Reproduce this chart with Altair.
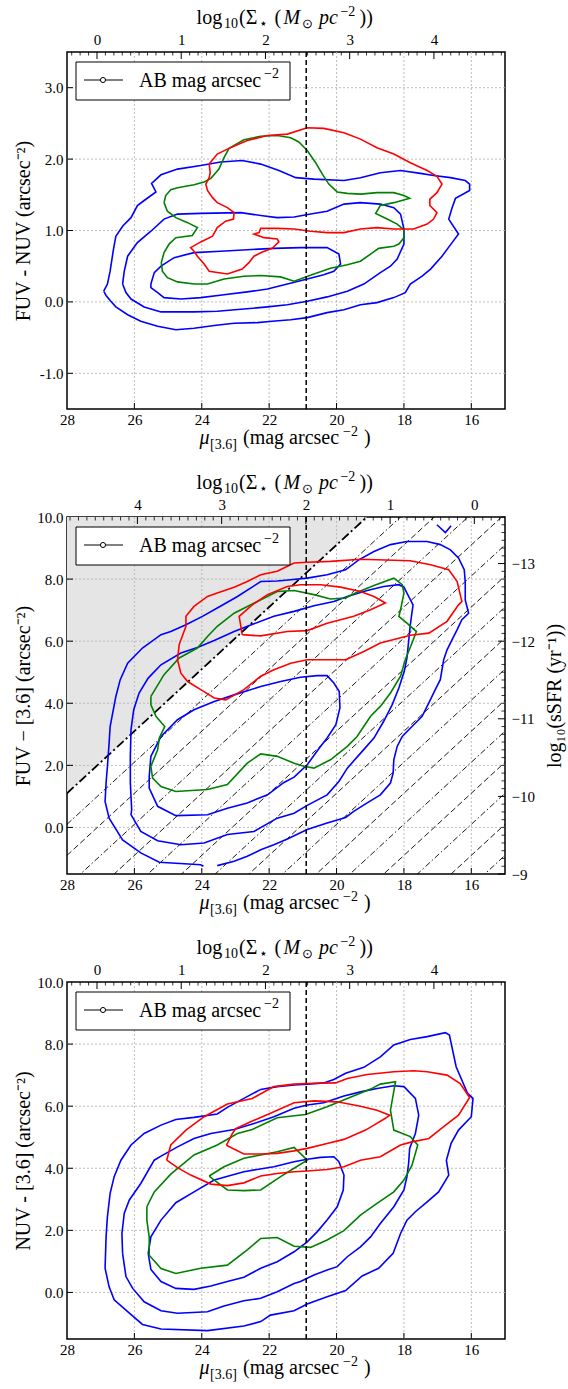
import altair as alt
import numpy as np
import pandas as pd

FONT = "Liberation Serif"
W, H = 438, 357

BLUE, GREEN, RED = "#0000ff", "#008000", "#ff0000"
GRID_C = "#b5b5b5"

# ---------------- axes / reference values ----------------
MU_TICKS = [28, 26, 24, 22, 20, 18, 16]
MU_GRID = [26, 24, 22, 20, 18, 16]
MU_CUT = 20.9                       # vertical dashed reference line
Y1_TICKS = [-1, 0, 1, 2, 3]
Y23_TICKS = [0, 2, 4, 6, 8, 10]
Y23_GRID = [0, 2, 4, 6, 8]
LOGSIG_TICKS = [0, 1, 2, 3, 4]
SSFR_TICKS = [-13, -12, -11, -10, -9]

# log10(Sigma_*) = 0.4 * (SIG_ZP - mu) on panels 1 and 3
SIG_ZP = 27.11
# log10(Sigma_*) = 2 + 0.4 * (mu - SIG_MU2) on panel 2
SIG_MU2 = 20.91

FUV_LIMIT = 29.1                    # FUV surface-brightness limit (bold line)
FUV_LEVELS = [28.1, 27.1, 26.1, 25.1, 24.1, 23.1, 22.1, 21.1,
              20.1, 19.1, 18.1, 17.1, 16.1, 15.1, 14.1]

# ---------------- contours: (mu_3.6, colour) ----------------
P1_BLUE_OUTER = [(26.91,0.15),(26.80,0.25),(26.72,0.43),(26.62,0.74),(26.55,0.92),(26.35,1.06),(26.10,1.18),
    (25.91,1.35),(25.71,1.42),(25.36,1.54),(25.49,1.66),(25.21,1.78),(24.72,1.86),(24.03,1.91),(23.44,1.96),
    (22.80,1.98),(22.25,1.93),(21.71,1.84),(21.21,1.74),(20.67,1.72),(19.78,1.70),(19.29,1.74),(18.70,1.81),
    (18.10,1.84),(17.51,1.80),(17.12,1.77),(16.62,1.74),(16.18,1.70),(16.05,1.65),(16.05,1.56),(16.47,1.45),
    (16.57,1.32),(16.67,1.16),(16.38,0.95),(16.57,0.83),(16.87,0.64),(17.21,0.46),(17.46,0.36),(17.81,0.25),
    (17.96,0.13),(18.30,0.06),(18.80,-0.01),(19.29,-0.04),(19.78,-0.11),(20.28,-0.15),(20.87,-0.22),(21.36,-0.25),
    (21.91,-0.27),(22.35,-0.29),(23.04,-0.30),(23.63,-0.33),(24.23,-0.37),(24.77,-0.39),(25.31,-0.34),(25.81,-0.27),
    (26.20,-0.18),(26.55,-0.07),(26.70,0.01),(26.84,0.09)]
P1_BLUE_MID = [(26.35,0.25),(26.30,0.43),(26.20,0.64),(25.91,0.83),(25.51,0.99),(25.12,1.16),(24.72,1.23),
    (24.03,1.24),(22.84,1.25),(22.25,1.21),(21.76,1.18),(21.26,1.19),(20.77,1.23),(20.28,1.27),(19.78,1.37),
    (19.29,1.39),(18.70,1.37),(18.30,1.32),(18.10,1.23),(18.00,1.02),(18.00,0.81),(18.20,0.60),(18.40,0.50),
    (18.70,0.41),(19.19,0.25),(19.68,0.15),(20.28,0.07),(20.87,0.01),(21.46,-0.04),(22.05,-0.07),(22.75,-0.10),
    (23.54,-0.13),(24.23,-0.14),(25.21,-0.14),(25.71,-0.07),(26.10,0.04),(26.25,0.13)]
P1_BLUE_IN = [(25.51,0.25),(25.41,0.41),(25.21,0.50),(24.82,0.62),(24.23,0.69),(23.44,0.71),(22.65,0.73),
    (21.86,0.75),(21.07,0.76),(20.28,0.76),(19.93,0.67),(19.88,0.53),(20.08,0.43),(20.38,0.38),(20.87,0.32),
    (21.46,0.25),(22.05,0.18),(22.65,0.14),(23.34,0.10),(24.03,0.06),(24.62,0.04),(25.12,0.06),(25.31,0.13),
    (25.51,0.20)]
P1_GREEN = [(25.12,1.39),(25.07,1.49),(24.92,1.57),(24.72,1.60),(24.23,1.64),(23.93,1.68),(23.73,1.73),
    (23.49,1.86),(23.34,2.02),(23.19,2.15),(22.75,2.27),(22.25,2.32),(21.76,2.33),(21.36,2.30),(21.12,2.24),
    (20.87,2.12),(20.62,1.95),(20.42,1.79),(20.23,1.65),(19.98,1.54),(19.68,1.52),(19.29,1.51),(18.80,1.53),
    (18.30,1.53),(18.00,1.49),(17.83,1.45),(18.30,1.39),(18.70,1.35),(18.84,1.24),(18.50,1.16),(18.20,1.09),
    (18.00,1.01),(18.00,0.90),(18.15,0.81),(18.30,0.78),(18.75,0.75),(18.99,0.67),(19.29,0.57),(19.68,0.52),
    (20.18,0.47),(20.67,0.39),(21.26,0.29),(21.66,0.35),(22.25,0.37),(22.75,0.36),(23.34,0.32),(23.83,0.25),
    (24.23,0.25),(24.72,0.28),(25.02,0.34),(25.17,0.43),(25.20,0.55),(25.12,0.69),(24.97,0.81),(24.77,0.90),
    (24.28,0.93),(24.13,1.04),(24.42,1.11),(24.77,1.18),(25.02,1.27)]
P1_RED = [(23.78,1.93),(23.54,2.07),(23.24,2.14),(22.65,2.26),(22.05,2.33),(21.46,2.35),(20.87,2.44),
    (20.38,2.43),(19.78,2.37),(19.29,2.28),(18.80,2.16),(18.30,2.07),(17.81,1.95),(17.31,1.84),(17.02,1.76),
    (16.87,1.65),(17.02,1.53),(17.23,1.44),(17.23,1.35),(17.02,1.25),(17.12,1.16),(17.31,1.09),(17.71,1.02),
    (18.30,1.02),(18.80,1.04),(19.29,1.02),(19.78,0.97),(20.28,0.97),(20.77,0.99),(21.26,1.02),(21.76,1.03),
    (22.25,1.03),(22.30,0.97),(22.45,0.95),(22.15,0.90),(21.76,0.88),(21.71,0.84),(21.91,0.75),(22.20,0.70),
    (22.45,0.64),(22.60,0.55),(22.80,0.46),(23.24,0.39),(23.78,0.43),(23.93,0.53),(24.13,0.64),(24.23,0.71),
    (24.33,0.76),(24.03,0.84),(23.68,0.92),(23.54,1.04),(23.29,1.13),(23.06,1.16),(23.04,1.25),(23.24,1.32),
    (23.54,1.39),(23.68,1.46),(23.83,1.56),(23.88,1.65),(23.78,1.74),(23.75,1.81)]

P2_BLUE_OUTER = [(23.54,-1.23),(23.04,-1.09),(22.65,-0.93),(22.25,-0.72),(21.86,-0.56),(21.46,-0.37),
    (20.87,-0.07),(20.28,0.14),(19.73,0.32),(19.49,0.52),(19.09,0.79),(18.70,1.05),(18.40,1.43),(18.32,1.75),
    (18.30,2.18),(18.20,2.61),(18.05,2.93),(17.76,3.25),(17.46,3.58),(17.26,4.01),(17.07,4.44),(16.92,4.76),
    (16.82,5.40),(16.72,5.72),(16.57,6.05),(16.42,6.37),(16.28,6.69),(16.08,6.90),(16.18,7.33),(16.18,7.92),
    (16.21,8.30),(16.38,8.68),(16.62,8.94),(16.92,9.11),(17.31,9.21),(17.91,9.21),(18.40,9.11),(18.89,8.89),
    (19.34,8.62),(19.73,8.30),(20.28,8.14),(20.87,8.03),(21.36,7.98),(21.76,7.94),(22.25,7.92),(22.94,7.44),
    (23.54,7.07),(23.98,6.80),(24.47,6.53),(24.92,6.31),(25.21,6.21),(25.76,5.78),(26.20,5.29),(26.42,4.76),
    (26.55,4.22),(26.72,3.25),(26.75,2.72),(26.80,1.97),(26.84,1.43),(26.87,0.84),(26.75,0.30),(26.35,-0.40),
    (25.81,-0.82),(25.26,-1.12),(24.03,-1.20),(23.95,-1.25)]
P2_BLUE_MID = [(26.08,0.57),(26.12,1.43),(26.12,2.29),(26.10,3.15),(26.02,3.79),(25.86,4.33),(25.59,4.81),
    (25.21,5.24),(24.62,5.62),(24.13,5.80),(23.63,6.02),(23.04,6.31),(22.45,6.56),(21.86,6.80),(21.26,6.96),
    (20.67,7.14),(20.08,7.28),(19.68,7.44),(19.09,7.63),(18.60,7.76),(18.15,7.82),(18.00,7.74),(17.86,7.44),
    (17.73,7.17),(17.81,6.53),(17.91,5.46),(17.99,5.03),(18.15,4.49),(18.35,3.95),(18.60,3.42),(18.89,2.88),
    (19.24,2.45),(19.68,1.91),(19.93,1.48),(20.28,1.05),(20.87,0.71),(21.26,0.46),(21.76,0.30),(22.45,-0.13),
    (23.24,-0.23),(23.93,-0.50),(24.62,-0.56),(25.31,-0.43),(25.81,-0.13),(26.10,0.41)]
P2_BLUE_IN = [(25.56,1.64),(25.51,2.29),(25.21,2.93),(24.72,3.47),(24.23,3.79),(23.63,4.06),(23.04,4.27),
    (22.25,4.54),(21.66,4.70),(21.07,4.84),(20.57,4.89),(20.28,4.89),(20.08,4.65),(19.92,4.38),(19.90,3.85),
    (20.02,3.31),(20.28,2.88),(20.51,2.56),(20.87,2.02),(21.26,1.62),(21.56,1.45),(22.05,1.05),(22.65,0.79),
    (23.24,0.62),(23.83,0.41),(24.77,0.38),(25.31,0.68),(25.56,1.27)]
P2_BLUE_TIP = [(17.02,9.75),(16.77,9.50),(16.60,9.72)]
P2_GREEN = [(25.51,4.22),(25.12,4.92),(24.67,5.46),(24.13,5.78),(23.83,6.15),(23.54,6.48),(23.04,6.90),
    (22.35,7.28),(21.76,7.60),(21.26,7.63),(20.67,7.50),(20.18,7.36),(19.73,7.39),(19.49,7.53),(18.89,7.79),
    (18.30,8.03),(18.05,7.82),(18.00,7.55),(18.10,7.01),(18.15,6.80),(17.91,6.58),(17.63,6.31),(17.76,5.94),
    (17.96,5.40),(18.10,4.87),(18.40,4.33),(18.70,3.90),(18.99,3.58),(19.39,2.93),(19.68,2.61),(20.18,2.18),
    (20.67,1.91),(20.97,1.97),(21.26,2.07),(21.76,2.29),(22.25,2.37),(22.65,2.07),(23.24,1.38),(23.83,1.22),
    (24.77,1.16),(25.21,1.32),(25.46,1.59),(25.51,1.97),(25.31,2.50),(25.26,2.88),(25.10,3.25),(25.36,3.58),
    (25.51,3.95)]
P2_RED_OUTER = [(21.26,8.52),(21.76,8.25),(22.25,8.14),(22.65,7.92),(23.04,7.74),(23.54,7.55),(23.83,7.44),
    (24.23,7.12),(24.47,6.80),(24.47,6.48),(24.67,5.89),(24.72,5.40),(24.62,4.97),(24.42,4.70),(24.03,4.44),
    (23.63,4.17),(23.29,4.11),(22.75,4.44),(22.25,4.87),(21.86,5.08),(21.36,5.29),(20.87,5.40),(20.18,5.40),
    (19.73,5.40),(19.19,5.67),(18.70,5.94),(17.81,6.19),(17.26,6.26),(16.72,6.64),(16.38,7.17),(16.28,7.28),
    (16.42,7.92),(16.67,8.30),(17.21,8.46),(17.81,8.59),(19.29,8.64),(20.18,8.57),(20.87,8.54)]
P2_RED_IN = [(22.80,6.21),(22.89,6.80),(22.50,7.17),(22.05,7.50),(21.46,7.76),(21.07,7.82),(20.47,7.82),
    (19.88,7.74),(19.29,7.60),(18.89,7.44),(18.55,7.23),(18.99,7.01),(19.49,6.80),(20.28,6.58),(20.87,6.34),
    (21.46,6.31),(22.25,6.17)]

P3_BLUE_OUTER = [(26.87,0.78),(26.84,1.79),(26.80,2.44),(26.72,3.19),(26.60,3.73),(26.40,4.26),(26.10,4.75),
    (25.71,5.12),(25.21,5.39),(24.77,5.57),(24.23,5.64),(23.54,5.75),(23.24,5.96),(22.75,6.25),(22.25,6.54),
    (21.76,6.63),(21.26,6.68),(20.87,6.71),(20.38,6.75),(20.08,6.86),(19.73,7.06),(19.19,7.25),(18.70,7.59),
    (18.30,7.97),(17.81,8.15),(17.31,8.24),(16.77,8.37),(16.65,8.29),(16.45,7.27),(16.11,6.41),(15.95,6.25),
    (16.00,5.66),(16.38,5.23),(16.60,4.80),(16.74,4.26),(16.67,3.78),(16.97,3.24),(17.31,2.92),(17.66,2.60),
    (17.91,2.33),(18.10,1.90),(18.32,1.26),(18.75,0.78),(19.24,0.53),(19.73,0.06),(20.28,-0.14),(20.87,-0.37),
    (21.26,-0.59),(21.96,-0.73),(22.25,-0.94),(22.75,-1.08),(23.83,-1.23),(25.21,-1.18),(25.76,-1.03),
    (26.20,-0.62),(26.60,-0.24),(26.75,0.18)]
P3_BLUE_MID = [(26.35,1.26),(26.37,1.90),(26.30,2.55),(26.15,2.98),(25.81,3.51),(25.41,4.26),(25.21,4.39),
    (24.72,4.69),(24.23,4.96),(23.73,5.12),(23.04,5.25),(22.45,5.44),(21.86,5.66),(21.26,5.93),(20.87,6.04),
    (20.38,6.11),(19.78,6.33),(19.29,6.46),(18.80,6.57),(18.30,6.66),(18.00,6.63),(17.66,6.25),(17.56,5.71),
    (17.66,5.12),(17.83,4.64),(17.86,4.16),(17.91,3.73),(18.00,3.30),(18.30,2.76),(18.70,2.22),(18.99,1.79),
    (19.29,1.47),(19.68,1.15),(19.98,0.83),(20.28,0.72),(20.67,0.56),(21.07,0.35),(21.26,0.29),(21.76,0.02),
    (22.25,-0.19),(22.75,-0.27),(23.34,-0.44),(23.83,-0.62),(24.72,-0.67),(25.21,-0.59),(25.71,-0.30),
    (26.05,0.13),(26.25,0.51)]
P3_BLUE_IN = [(25.59,1.26),(25.51,1.79),(25.21,2.33),(24.77,2.89),(24.23,3.24),(23.63,3.62),(22.75,3.89),
    (21.86,4.05),(21.26,4.21),(20.87,4.29),(20.47,4.35),(20.08,4.37),(19.93,4.21),(19.78,3.78),(19.80,3.30),
    (19.98,2.76),(20.28,2.33),(20.57,1.96),(20.87,1.63),(21.26,1.31),(21.76,0.99),(22.25,0.78),(22.75,0.49),
    (23.24,0.35),(23.73,0.21),(24.23,0.10),(24.77,0.13),(25.21,0.35),(25.51,0.74)]
P3_GREEN_OUTER = [(25.63,2.76),(25.41,3.24),(24.92,3.81),(24.23,4.43),(23.54,4.75),(22.94,5.12),(22.50,5.25),
    (21.76,5.63),(20.92,5.73),(20.28,5.98),(19.68,6.25),(18.99,6.55),(18.70,6.71),(18.25,6.79),(18.40,5.87),
    (18.30,5.23),(17.81,5.02),(17.59,4.75),(17.76,4.10),(18.00,3.62),(18.30,3.24),(18.80,2.87),(19.29,2.49),
    (19.78,1.99),(20.28,1.69),(20.77,1.45),(21.26,1.49),(21.76,1.77),(22.25,1.74),(22.65,1.37),(23.24,0.88),
    (24.03,0.78),(24.77,0.61),(25.21,0.77),(25.56,1.20),(25.56,1.79),(25.63,2.33)]
P3_GREEN_IN = [(23.78,3.75),(23.34,4.05),(22.75,4.32),(22.25,4.43),(21.76,4.53),(21.26,4.67),(20.87,4.26),
    (21.26,4.00),(21.66,3.73),(22.25,3.30),(22.75,3.28),(23.24,3.30),(23.63,3.62)]
P3_RED_OUTER = [(25.04,4.26),(24.92,4.75),(24.47,5.23),(23.93,5.66),(23.24,6.07),(22.50,6.25),(21.86,6.63),
    (21.26,6.71),(20.87,6.73),(20.03,6.75),(19.68,6.89),(19.09,7.02),(18.30,7.11),(17.71,7.14),(17.31,7.11),
    (16.72,7.00),(16.33,6.73),(16.05,6.28),(16.38,5.71),(16.82,5.34),(17.26,4.96),(17.76,4.85),(18.10,4.75),
    (18.70,4.37),(19.29,4.26),(19.78,4.05),(20.28,3.96),(20.87,3.91),(21.26,3.89),(21.76,3.83),(22.25,3.75),
    (22.75,3.53),(23.24,3.44),(23.73,3.49),(24.33,3.78),(24.72,4.02)]
P3_RED_IN = [(23.27,4.74),(23.09,5.12),(22.99,5.28),(22.55,5.50),(21.96,5.77),(21.26,6.11),(20.67,6.17),
    (19.98,6.14),(19.29,6.00),(18.80,5.87),(18.42,5.71),(18.55,5.61),(18.89,5.39),(19.14,5.23),(19.78,4.93),
    (20.28,4.80),(20.87,4.64),(21.26,4.56),(21.76,4.48),(22.25,4.46),(22.75,4.46)]

# ---------------- text layout ----------------
# (text, x offset from plot left, baseline shift, font size, italic)
TOP_TITLE = [("log", 129.6, 0, 20, False), ("10", 157, 4, 14, False), ("(Σ", 172, 0, 20, False),
             ("⋆", 192, 4, 14, False), ("(", 207.5, 0, 20, False), ("M", 216.5, 0, 20, True),
             ("⊙", 235, 4, 13, False), ("pc", 252, 0, 20, True), ("−2", 273.4, -8, 14, False),
             ("))", 292.6, 0, 20, False)]
BOTTOM_TITLE = [("μ", 132.5, 0, 20, True), ("[3.6]", 143, 5, 14, False), ("(mag arcsec", 176, 0, 20, False),
                ("−2", 276, -8, 14, False), (")", 297, 0, 20, False)]
LEGEND_TEXT = [("AB mag arcsec", 72, 0, 20, False), ("−2", 197, -9, 14, False)]

XSCALE = alt.Scale(domain=[15, 28], reverse=True, nice=False, zero=False)


def yscale(lo, hi):
    return alt.Scale(domain=[lo, hi], nice=False, zero=False)


def one_row():
    return pd.DataFrame({"d": [0]})


def contour_frame(paths):
    rows = []
    for cid, (colour, pts, closed) in enumerate(paths):
        seq = list(pts) + ([pts[0]] if closed else [])
        for k, (m, v) in enumerate(seq):
            rows.append({"cid": cid, "colour": colour, "k": k, "mu": m, "val": v})
    return pd.DataFrame(rows)


def text_pieces(pieces, base):
    out = []
    for txt, x, dy, size, italic in pieces:
        out.append(
            alt.Chart(pd.DataFrame({"t": [txt]}))
            .mark_text(align="left", baseline="alphabetic", font=FONT, fontSize=size,
                       fontStyle="italic" if italic else "normal", color="black")
            .encode(x=alt.value(x), y=alt.value(base + dy), text="t:N")
        )
    return out


def build_panel(paths, ylo, yhi, yticks, ygrid, ytitle, top_domain, top_reverse, shaded=False):
    """All layers of one panel; every scale has an explicit domain, so they can be resolved independently."""
    ys = yscale(ylo, yhi)
    X = lambda f: alt.X(f"{f}:Q", scale=XSCALE, axis=None)
    Y = lambda f: alt.Y(f"{f}:Q", scale=ys, axis=None)
    layers = []

    if shaded:
        shade = pd.DataFrame({"mu": [28, FUV_LIMIT - yhi], "val": [FUV_LIMIT - 28, yhi], "top": [yhi, yhi]})
        layers.append(alt.Chart(shade).mark_area(color="#e5e5e5", clip=True)
                      .encode(x=X("mu"), y=Y("val"), y2="top:Q"))

    # dotted grid
    layers.append(alt.Chart(pd.DataFrame({"mu": MU_GRID}))
                  .mark_rule(color=GRID_C, strokeDash=[2, 2], strokeWidth=0.9).encode(x=X("mu")))
    layers.append(alt.Chart(pd.DataFrame({"val": ygrid}))
                  .mark_rule(color=GRID_C, strokeDash=[2, 2], strokeWidth=0.9).encode(y=Y("val")))

    if shaded:
        rows = []
        for i, c in enumerate(FUV_LEVELS):
            for m in (28, 15):
                rows.append({"line": i, "mu": m, "val": c - m, "style": "dashdot" if i % 2 == 0 else "dash"})
        layers.append(alt.Chart(pd.DataFrame(rows)).mark_line(color="black", strokeWidth=0.9, clip=True)
                      .encode(x=X("mu"), y=Y("val"), detail="line:N",
                              strokeDash=alt.StrokeDash("style:N", legend=None,
                                                        scale=alt.Scale(domain=["dashdot", "dash"],
                                                                        range=[[6, 2.5, 1.5, 2.5], [6, 3]]))))
        limit = pd.DataFrame({"mu": [28, FUV_LIMIT - yhi], "val": [FUV_LIMIT - 28, yhi]})
        layers.append(alt.Chart(limit).mark_line(color="black", strokeWidth=1.8, strokeDash=[9, 3, 2, 3], clip=True)
                      .encode(x=X("mu"), y=Y("val")))

    x_axis = alt.Axis(orient="bottom", values=MU_TICKS, format="d", title=None, labelPadding=3,
                      labelFlush=False, labelOverlap=False)
    y_axis = alt.Axis(orient="left", values=yticks, title=ytitle,
                      labelExpr="replace(format(datum.value, '.1f'), '\u2212', '-')",
                      titleX=-44, titleY=H / 2, titleAngle=-90, titleAlign="center", titleBaseline="middle",
                      labelPadding=4, labelFlush=False, labelOverlap=False)
    layers.append(alt.Chart(contour_frame(paths)).mark_line(strokeWidth=1.6, clip=True).encode(
        x=alt.X("mu:Q", scale=XSCALE, axis=x_axis),
        y=alt.Y("val:Q", scale=ys, axis=y_axis),
        detail="cid:N", order="k:Q",
        color=alt.Color("colour:N", scale=None)))

    layers.append(alt.Chart(pd.DataFrame({"mu": [MU_CUT]}))
                  .mark_rule(color="black", strokeWidth=1.5, strokeDash=[5, 3]).encode(x=X("mu")))

    # inward ticks on bottom and left spines
    layers.append(alt.Chart(pd.DataFrame({"mu": MU_GRID})).mark_rule(color="black", strokeWidth=1)
                  .encode(x=X("mu"), y=alt.value(H), y2=alt.value(H - 6)))
    layers.append(alt.Chart(pd.DataFrame({"val": ygrid})).mark_rule(color="black", strokeWidth=1)
                  .encode(y=Y("val"), x=alt.value(0), x2=alt.value(6)))

    # legend box
    layers.append(alt.Chart(one_row()).mark_rect(fill="white", stroke="black", strokeWidth=1)
                  .encode(x=alt.value(9), x2=alt.value(223), y=alt.value(10), y2=alt.value(48)))
    layers.append(alt.Chart(one_row()).mark_rule(color="black", strokeWidth=1)
                  .encode(x=alt.value(17), x2=alt.value(56), y=alt.value(28)))
    layers.append(alt.Chart(one_row()).mark_point(shape="circle", fill="white", stroke="black",
                                                   strokeWidth=1, size=26, opacity=1)
                  .encode(x=alt.value(36), y=alt.value(28)))
    layers += text_pieces(LEGEND_TEXT, 35)

    # composed axis titles
    layers += text_pieces(TOP_TITLE, -28)
    layers += text_pieces(BOTTOM_TITLE, H + 35)

    # top axis: stellar mass surface density
    top_scale = alt.Scale(domain=top_domain, reverse=top_reverse, nice=False, zero=False)
    top_axis = alt.Axis(orient="top", values=LOGSIG_TICKS, format="d", title=None, labelPadding=5,
                        labelFlush=False, labelOverlap=False)
    minor = [v / 10 for v in range(-3, 49) if v % 10 != 0]
    layers.append(alt.Chart(pd.DataFrame({"ls": LOGSIG_TICKS})).mark_rule(color="black", strokeWidth=1)
                  .encode(x=alt.X("ls:Q", scale=top_scale, axis=top_axis), y=alt.value(0), y2=alt.value(7)))
    layers.append(alt.Chart(pd.DataFrame({"ls": minor})).mark_rule(color="black", strokeWidth=0.8)
                  .encode(x=alt.X("ls:Q", scale=top_scale, axis=None), y=alt.value(0), y2=alt.value(3.5)))
    return layers


# ---------------- panels ----------------
top13 = [0.4 * (SIG_ZP - 28), 0.4 * (SIG_ZP - 15)]
top2 = [2 + 0.4 * (15 - SIG_MU2), 2 + 0.4 * (28 - SIG_MU2)]

l1 = build_panel(
    [(BLUE, P1_BLUE_OUTER, True), (BLUE, P1_BLUE_MID, True), (BLUE, P1_BLUE_IN, True),
     (GREEN, P1_GREEN, True), (RED, P1_RED, True)],
    -1.5, 3.5, Y1_TICKS, Y1_TICKS, "FUV - NUV (arcsec⁻²)", top13, False)
panel1 = alt.layer(*l1).resolve_scale(x="independent", y="independent").properties(width=W, height=H)

l2 = build_panel(
    [(BLUE, P2_BLUE_OUTER, False), (BLUE, P2_BLUE_MID, True), (BLUE, P2_BLUE_IN, True),
     (BLUE, P2_BLUE_TIP, False), (GREEN, P2_GREEN, True), (RED, P2_RED_OUTER, True), (RED, P2_RED_IN, True)],
    -1.5, 10, Y23_TICKS, Y23_GRID, "FUV − [3.6] (arcsec⁻²)", top2, True, shaded=True)

# right axis: specific star formation rate, linear in FUV - [3.6]
ssfr_lo = -9 - 0.4 * (10 - (-1.5))
ssfr_scale = alt.Scale(domain=[ssfr_lo, -9], reverse=True, nice=False, zero=False)
ssfr_axis = alt.Axis(orient="right", values=SSFR_TICKS, format="d", title="log₁₀(sSFR (yr⁻¹))",
                     titleX=49, titleY=H / 2, titleAngle=-90, titleAlign="center", titleBaseline="middle",
                     labelPadding=6, labelFlush=False, labelOverlap=False)
ssfr_minor = [v / 10 for v in range(-136, -89) if v % 10 != 0]
l2.append(alt.Chart(pd.DataFrame({"s": SSFR_TICKS})).mark_rule(color="black", strokeWidth=1)
          .encode(y=alt.Y("s:Q", scale=ssfr_scale, axis=ssfr_axis), x=alt.value(W), x2=alt.value(W - 7)))
l2.append(alt.Chart(pd.DataFrame({"s": ssfr_minor})).mark_rule(color="black", strokeWidth=0.8)
          .encode(y=alt.Y("s:Q", scale=ssfr_scale, axis=None), x=alt.value(W), x2=alt.value(W - 3.5)))
panel2 = alt.layer(*l2).resolve_scale(x="independent", y="independent").properties(width=W, height=H)

l3 = build_panel(
    [(BLUE, P3_BLUE_OUTER, True), (BLUE, P3_BLUE_MID, True), (BLUE, P3_BLUE_IN, True),
     (GREEN, P3_GREEN_OUTER, True), (GREEN, P3_GREEN_IN, True), (RED, P3_RED_OUTER, True), (RED, P3_RED_IN, True)],
    -1.5, 10, Y23_TICKS, Y23_GRID, "NUV - [3.6] (arcsec⁻²)", top13, False)
panel3 = alt.layer(*l3).resolve_scale(x="independent", y="independent").properties(width=W, height=H)

chart = (
    alt.vconcat(panel1, panel2, panel3, spacing=108, bounds="flush")
    .properties(padding={"left": 12, "top": 4, "right": 2, "bottom": 4}, background="white")
    .configure(font=FONT)
    .configure_view(stroke="black", strokeWidth=1.5)
    .configure_axis(labelFont=FONT, labelFontSize=15, labelColor="black", titleFont=FONT,
                    titleFontSize=20, titleFontWeight="normal", titleColor="black",
                    domain=False, ticks=False, grid=False)
)

chart.save("out.html", embed_options={"renderer": "svg", "actions": False})
